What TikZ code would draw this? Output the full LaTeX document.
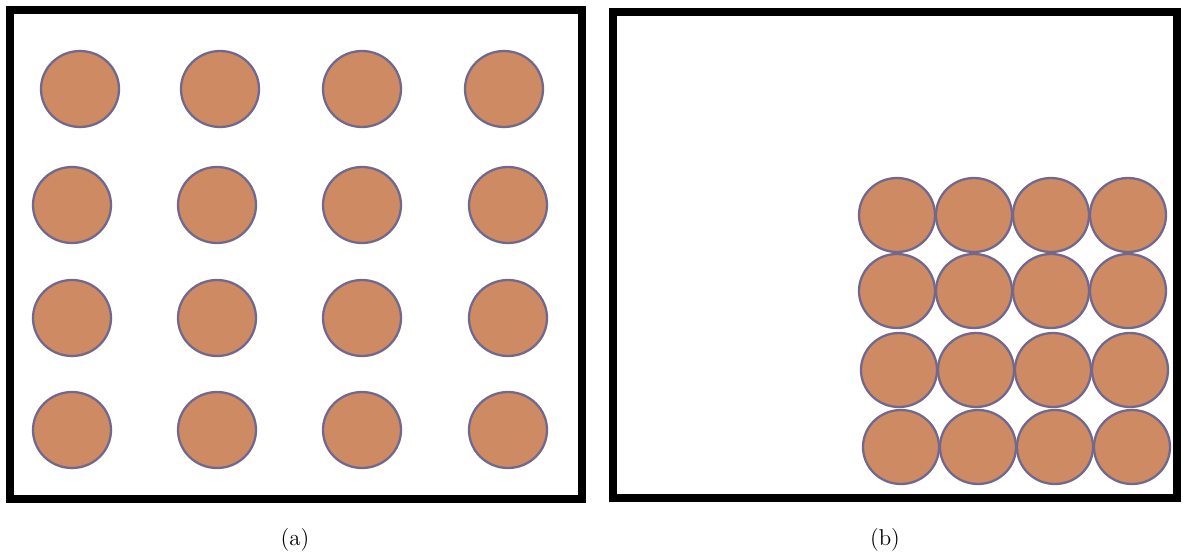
\documentclass[tikz,border=0pt]{standalone}
\usepackage{tikz}
\usetikzlibrary{positioning}

\definecolor{granule}{RGB}{206,138,99}
\definecolor{granedge}{RGB}{112,104,142}

\tikzset{
  frame/.style={line width=5pt},
  particle/.style={fill=granule, draw=granedge, line width=1.3pt},
  caption/.style={font=\fontsize{13}{15}\selectfont, inner sep=0pt}
}

\begin{document}
\begin{tikzpicture}[x=0.02cm, y=-0.02cm]
% 1 unit = 1 px of the 1183 x 558 layout, y pointing down
\useasboundingbox (0,0) rectangle (1183,558);
% (a) spread out
\draw[frame] (10,10) rectangle (582,499);
\foreach \cx in {80,220,362,504}
  \draw[particle] (\cx,89) ellipse [x radius=39, y radius=38];
\foreach \cy in {205,318,430}
  \foreach \cx in {72,217,362,508}
    \draw[particle] (\cx,\cy) ellipse [x radius=39, y radius=38];
% (b) packed in the corner
\draw[frame] (613,12) rectangle (1177,498);
\foreach \cy/\dx in {215/0,291/0,370/2,447/4}
  \foreach \cx in {897,974,1051,1128}
    \draw[particle] ({\cx+\dx},\cy) ellipse [x radius=38, y radius=37];
\node[caption] (capa) at (295,540) {(a)};
\node[caption] (capb) at (885,540) {(b)};
\end{tikzpicture}
\end{document}
